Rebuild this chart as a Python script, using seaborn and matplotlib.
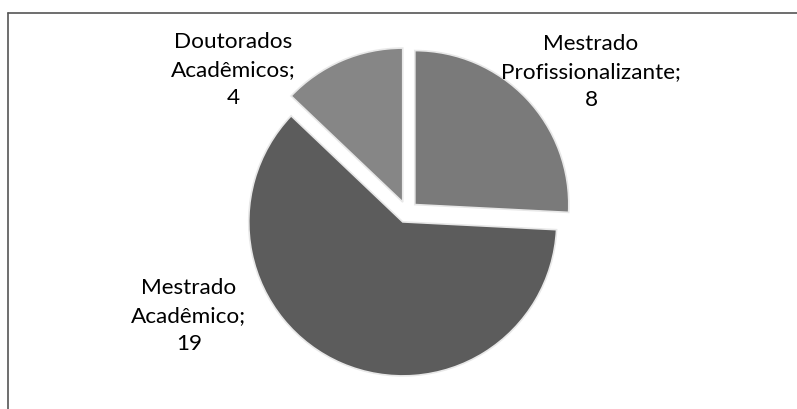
"""Pie chart of graduate programmes (exploded slices, grayscale)."""
import matplotlib
matplotlib.use("Agg")
import matplotlib.pyplot as plt
from matplotlib.lines import Line2D
import seaborn as sns

# data
categorias = ["Mestrado\nProfissionalizante;", "Mestrado\nAcadêmico;", "Doutorados\nAcadêmicos;"]
valores = [8, 19, 4]
cores = ["#7a7a7a", "#5c5c5c", "#868686"]

sns.set_theme(style="white")
plt.rcParams['font.family'] = ['Lato', 'DejaVu Sans']

fig = plt.figure(figsize=(7.97, 4.10), dpi=100)
ax = fig.add_axes([0, 0, 1, 1])

# pie centre at pixel (407, 213), radius 154 px
cx, cy, rpx = 407, 213, 154
wedges, texts = ax.pie(
    valores,
    labels=["{L}\n{V}".format(L=c, V=v) for c, v in zip(categorias, valores)],
    colors=cores,
    startangle=90,
    counterclock=False,
    explode=[0.07, 0.07, 0.07],
    wedgeprops={'linewidth': 1.2, 'edgecolor': '#e8e8e8'},
    textprops={'fontsize': 16.2, 'color': '#000000', 'ha': 'center',
               'va': 'center', 'multialignment': 'center', 'linespacing': 1.48},
)
# label centres in pixels
lbl_px = [(591, 72), (189, 316), (233, 70)]
for txt, (px, py) in zip(texts, lbl_px):
    txt.set_position(((px - cx) / rpx, (cy - py) / rpx))
    txt.set_ha('center')

ax.set_aspect('auto')
ax.set_xlim(-cx / rpx, (797 - cx) / rpx)
ax.set_ylim((cy - 410) / rpx, cy / rpx)
ax.axis('off')

# chart frame: only the top and left edges are visible in the scan
fig.add_artist(Line2D([8 / 797, 1.0], [1 - 14 / 410, 1 - 14 / 410],
                      transform=fig.transFigure, color='#555555', lw=1.2))
fig.add_artist(Line2D([8 / 797, 8 / 797], [0.0, 1 - 14 / 410],
                      transform=fig.transFigure, color='#555555', lw=1.2))

fig.savefig("out.png", dpi=100)
